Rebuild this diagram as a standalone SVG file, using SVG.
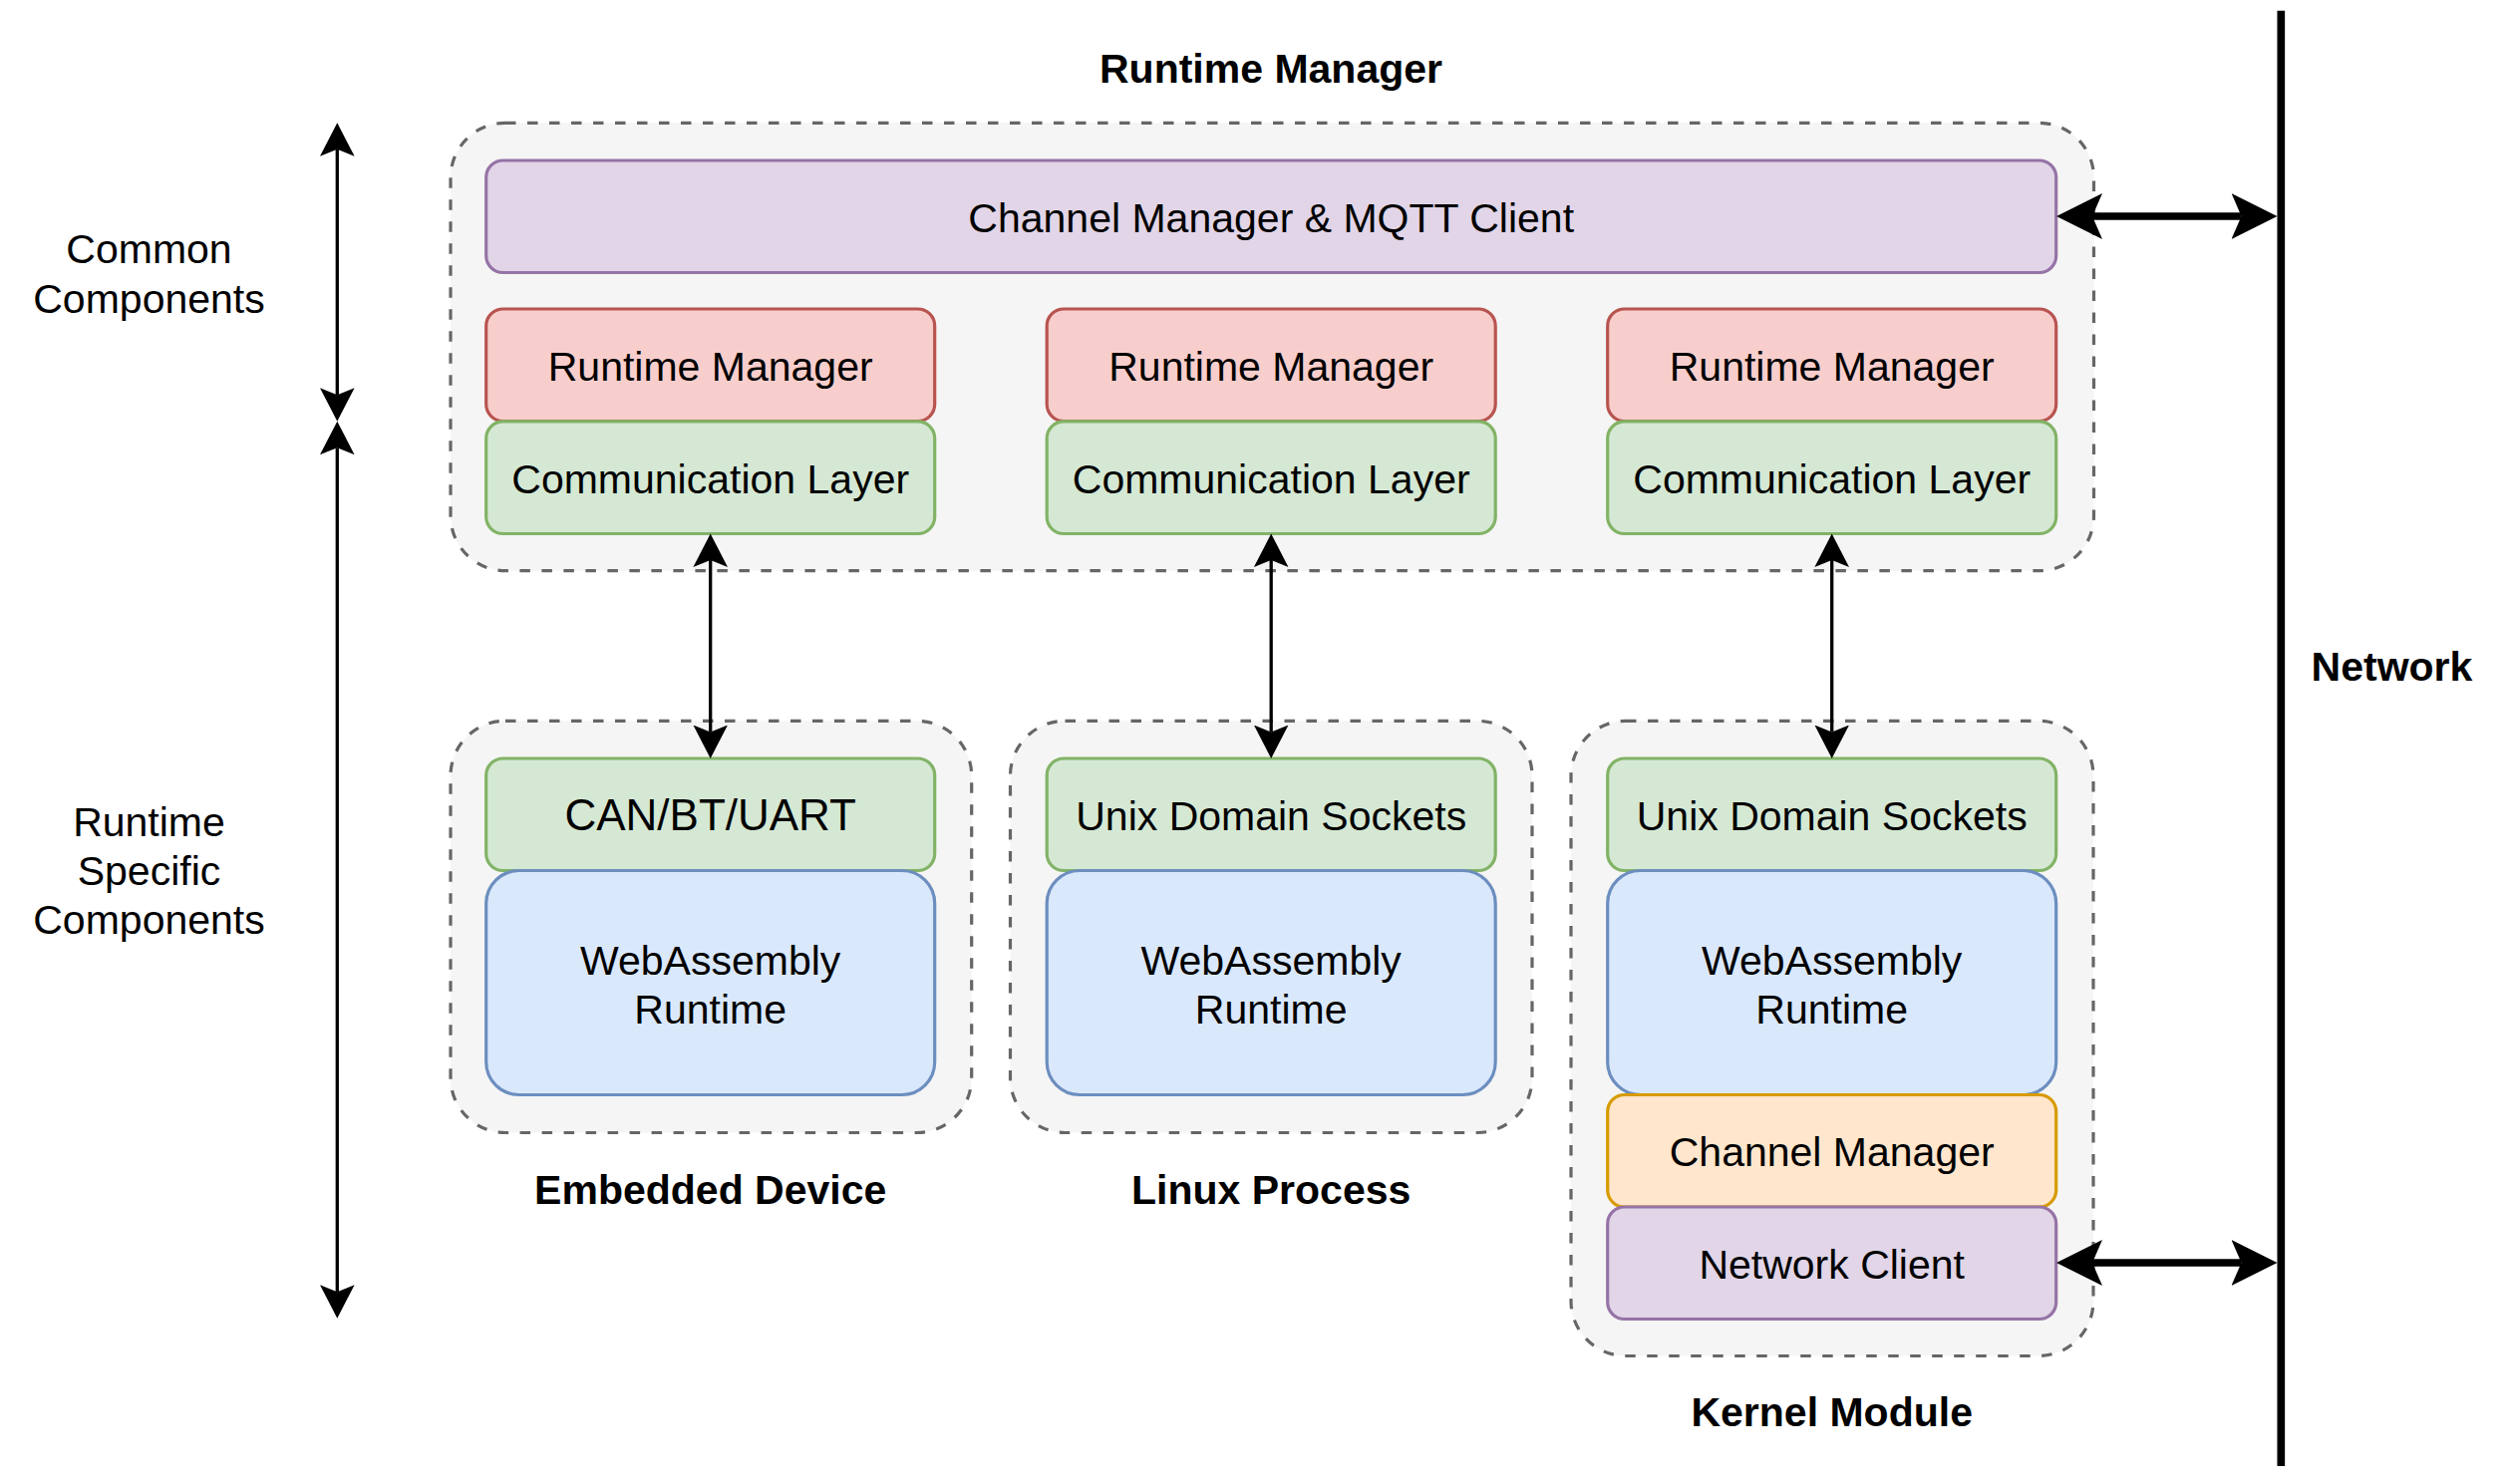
<svg xmlns="http://www.w3.org/2000/svg" width="2521" height="1489" viewBox="0 0 2521 1489">
<defs>
<style>
.t{font-family:"Liberation Sans",Arial,sans-serif;font-size:41px;fill:#000;text-anchor:middle}
.b{font-weight:bold}
.cont{fill:#f5f5f5;stroke:#666666;stroke-width:3.2;stroke-dasharray:10.5 11.5}
.pur{fill:#e1d5e7;stroke:#9673a6;stroke-width:3.2}
.red{fill:#f8cecc;stroke:#b85450;stroke-width:3.2}
.grn{fill:#d5e8d4;stroke:#82b366;stroke-width:3.2}
.blu{fill:#dae8fc;stroke:#6c8ebf;stroke-width:3.2}
.org{fill:#ffe6cc;stroke:#d79b00;stroke-width:3.2}
.thin{stroke:#000;stroke-width:3.3;fill:none;marker-start:url(#ah);marker-end:url(#ah)}
.thick{stroke:#000;stroke-width:7.5;fill:none;marker-start:url(#ahb);marker-end:url(#ahb)}
</style>
<marker id="ah" markerUnits="userSpaceOnUse" viewBox="0 -20 40 40" markerWidth="40" markerHeight="40" refX="7" refY="0" orient="auto-start-reverse">
<path d="M0 -17.3 L33.5 0 L0 17.3 L7 0 Z" fill="#000"/>
</marker>
<marker id="ahb" markerUnits="userSpaceOnUse" viewBox="0 -26 52 52" markerWidth="52" markerHeight="52" refX="10" refY="0" orient="auto-start-reverse">
<path d="M0 -23 L46 0 L0 23 L10 0 Z" fill="#000"/>
</marker>
</defs>
<rect width="2521" height="1489" fill="#ffffff"/>

<g id="runtime-manager-container">
<rect class="cont" x="452" y="123.3" width="1648.5" height="449.4" rx="55"/>
<text class="t b" x="1275" y="83">Runtime Manager</text>
</g>
<g id="embedded-device-container">
<rect class="cont" x="452" y="723.3" width="522.7" height="413.2" rx="55"/>
<text class="t b" x="712.7" y="1207.6">Embedded Device</text>
</g>
<g id="linux-process-container">
<rect class="cont" x="1013.5" y="723.3" width="523.5" height="413.2" rx="55"/>
<text class="t b" x="1275.2" y="1207.6">Linux Process</text>
</g>
<g id="kernel-module-container">
<rect class="cont" x="1576" y="723.3" width="524" height="637.2" rx="55"/>
<text class="t b" x="1837.7" y="1430.6">Kernel Module</text>
</g>

<g id="channel-manager-mqtt">
<rect class="pur" x="487.7" y="161" width="1575" height="112.5" rx="17"/>
<text class="t" x="1275.2" y="233">Channel Manager &amp; MQTT Client</text>
</g>

<g id="rm1"><rect class="red" x="487.7" y="310" width="450" height="112.5" rx="17"/><text class="t" x="712.7" y="382">Runtime Manager</text></g>
<g id="rm2"><rect class="red" x="1050.2" y="310" width="450" height="112.5" rx="17"/><text class="t" x="1275.2" y="382">Runtime Manager</text></g>
<g id="rm3"><rect class="red" x="1612.7" y="310" width="450" height="112.5" rx="17"/><text class="t" x="1837.7" y="382">Runtime Manager</text></g>

<g id="cl1"><rect class="grn" x="487.7" y="422.8" width="450" height="112.7" rx="17"/><text class="t" x="712.7" y="494.5">Communication Layer</text></g>
<g id="cl2"><rect class="grn" x="1050.2" y="422.8" width="450" height="112.7" rx="17"/><text class="t" x="1275.2" y="494.5">Communication Layer</text></g>
<g id="cl3"><rect class="grn" x="1612.7" y="422.8" width="450" height="112.7" rx="17"/><text class="t" x="1837.7" y="494.5">Communication Layer</text></g>

<g id="can-bt-uart"><rect class="grn" x="487.7" y="761" width="450" height="112.5" rx="17"/><text class="t" x="712.7" y="833" style="font-size:44px">CAN/BT/UART</text></g>
<g id="uds1"><rect class="grn" x="1050.2" y="761" width="450" height="112.5" rx="17"/><text class="t" x="1275.2" y="833">Unix Domain Sockets</text></g>
<g id="uds2"><rect class="grn" x="1612.7" y="761" width="450" height="112.5" rx="17"/><text class="t" x="1837.7" y="833">Unix Domain Sockets</text></g>

<g id="wasm1"><rect class="blu" x="487.7" y="873.5" width="450" height="225" rx="33"/><text class="t" x="712.7" y="977.5">WebAssembly</text><text class="t" x="712.7" y="1027.3">Runtime</text></g>
<g id="wasm2"><rect class="blu" x="1050.2" y="873.5" width="450" height="225" rx="33"/><text class="t" x="1275.2" y="977.5">WebAssembly</text><text class="t" x="1275.2" y="1027.3">Runtime</text></g>
<g id="wasm3"><rect class="blu" x="1612.7" y="873.5" width="450" height="225" rx="33"/><text class="t" x="1837.7" y="977.5">WebAssembly</text><text class="t" x="1837.7" y="1027.3">Runtime</text></g>

<g id="channel-manager"><rect class="org" x="1612.7" y="1098.5" width="450" height="112.5" rx="17"/><text class="t" x="1837.7" y="1169.5">Channel Manager</text></g>
<g id="network-client"><rect class="pur" x="1612.7" y="1211" width="450" height="112.5" rx="17"/><text class="t" x="1837.7" y="1282.5">Network Client</text></g>

<g id="labels">
<text class="t" x="149.5" y="263.7">Common</text>
<text class="t" x="149.5" y="313.5">Components</text>
<text class="t" x="149.5" y="838.5">Runtime</text>
<text class="t" x="149.5" y="887.5">Specific</text>
<text class="t" x="149.5" y="937">Components</text>
</g>

<g id="network">
<line x1="2288.3" y1="10.7" x2="2288.3" y2="1471" stroke="#000" stroke-width="7.7"/>
<text class="t b" x="2399.5" y="682.6">Network</text>
</g>

<g id="connectors">
<line class="thin" x1="338.3" y1="149.8" x2="338.3" y2="396.2"/>
<line class="thin" x1="338.3" y1="449.2" x2="338.3" y2="1296.2"/>
<line class="thin" x1="712.7" y1="562" x2="712.7" y2="734.5"/>
<line class="thin" x1="1275.2" y1="562" x2="1275.2" y2="734.5"/>
<line class="thin" x1="1837.7" y1="562" x2="1837.7" y2="734.5"/>
<line class="thick" x1="2099" y1="216.9" x2="2248.5" y2="216.9"/>
<line class="thick" x1="2099" y1="1267" x2="2248.5" y2="1267"/>
</g>
</svg>
